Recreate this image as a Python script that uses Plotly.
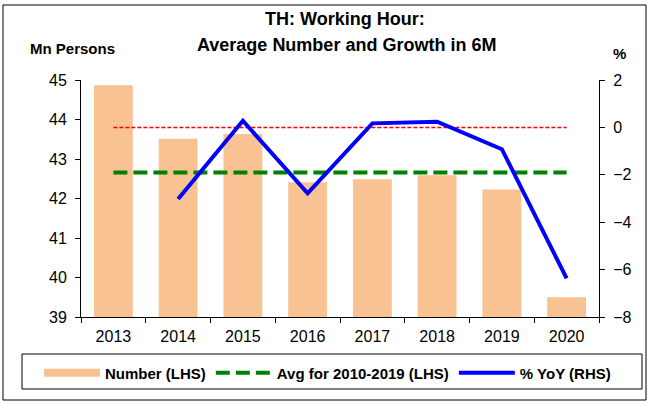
import plotly.graph_objects as go

years = ["2013", "2014", "2015", "2016", "2017", "2018", "2019", "2020"]
number_lhs = [44.87, 43.51, 43.63, 42.41, 42.49, 42.59, 42.23, 39.50]
avg_2010_2019 = [42.66] * 8
yoy_rhs = [None, -3.02, 0.28, -2.78, 0.17, 0.24, -0.92, -6.37]
zero_ref = [0] * 8

FONT = "Liberation Sans, Arial, sans-serif"
BAR_C = "#F9C293"

# plot area in page pixels
PL, PR, PT, PB = 81, 599, 80, 317
PW, PH = PR - PL, PB - PT


def px(x):
    return (x - PL) / PW


def py(y):
    return (PB - y) / PH


fig = go.Figure()
fig.add_trace(go.Bar(x=years, y=number_lhs, name="<b>Number (LHS)</b>", showlegend=False,
                     legendgroup="num", marker=dict(color=BAR_C, line=dict(width=0)), yaxis="y"))
# legend entry for the bars (wide swatch as in the reference)
fig.add_trace(go.Scatter(x=[years[0]], y=[None], mode="lines", name="<b>Number (LHS)</b>",
                         legendgroup="num", line=dict(color=BAR_C, width=8), yaxis="y"))
fig.add_trace(go.Scatter(x=years, y=zero_ref, mode="lines", showlegend=False,
                         line=dict(color="#FF0000", width=1.5, dash="4px,2px"), yaxis="y2"))
fig.add_trace(go.Scatter(x=years, y=avg_2010_2019, mode="lines", name="<b>Avg for 2010-2019 (LHS)</b>",
                         line=dict(color="#008000", width=4, dash="14px,6px"), yaxis="y"))
fig.add_trace(go.Scatter(x=years, y=yoy_rhs, mode="lines", name="<b>% YoY (RHS)</b>",
                         line=dict(color="#0000FF", width=4), yaxis="y2"))

fig.update_layout(
    width=649, height=401,
    margin=dict(l=PL, r=649 - PR, t=PT, b=401 - PB, autoexpand=False),
    paper_bgcolor="white", plot_bgcolor="white",
    font=dict(family=FONT, size=16, color="black"),
    bargap=0.4,
    showlegend=True,
    hovermode=False,
    legend=dict(orientation="h", x=px(39), xanchor="left", y=py(373), yanchor="middle",
                font=dict(size=15), borderwidth=0, bgcolor="rgba(0,0,0,0)",
                itemwidth=56, traceorder="normal"),
    xaxis=dict(type="category", showline=True, linecolor="black", linewidth=1,
               ticks="outside", tickson="boundaries", ticklen=5, tickcolor="black",
               showgrid=False, tickfont=dict(size=16), ticklabelstandoff=5),
    yaxis=dict(range=[39, 45], dtick=1, showline=True, linecolor="black", linewidth=1,
               ticks="outside", ticklen=5, tickcolor="black", showgrid=False, zeroline=False,
               tickfont=dict(size=16), ticklabelstandoff=5),
    yaxis2=dict(range=[-8, 2], dtick=2, overlaying="y", side="right", showline=True,
                linecolor="black", linewidth=1, ticks="outside", ticklen=5, tickcolor="black",
                showgrid=False, zeroline=False, tickfont=dict(size=16), ticklabelstandoff=5),
    shapes=[
        dict(type="rect", xref="paper", yref="paper", x0=px(3), x1=px(646),
             y0=py(400), y1=py(5), line=dict(color="black", width=1)),
        dict(type="rect", xref="paper", yref="paper", x0=px(22), x1=px(642),
             y0=py(389), y1=py(354), line=dict(color="black", width=1)),
    ],
    annotations=[
        dict(text="<b>TH: Working Hour:</b>", xref="paper", yref="paper", x=px(345),
             y=py(19), showarrow=False, font=dict(size=18), xanchor="center", yanchor="middle"),
        dict(text="<b>Average Number and Growth in 6M</b>", xref="paper", yref="paper",
             x=px(346), y=py(45), showarrow=False, font=dict(size=18),
             xanchor="center", yanchor="middle"),
        dict(text="<b>Mn Persons</b>", xref="paper", yref="paper", x=px(28),
             y=py(48), showarrow=False, font=dict(size=15), xanchor="left", yanchor="middle"),
        dict(text="<b>%</b>", xref="paper", yref="paper", x=px(619),
             y=py(53), showarrow=False, font=dict(size=15), xanchor="center", yanchor="middle"),
    ],
)

fig.write_html("out.html", config={"displayModeBar": False},
               post_script="document.body.style.margin='0px';")
